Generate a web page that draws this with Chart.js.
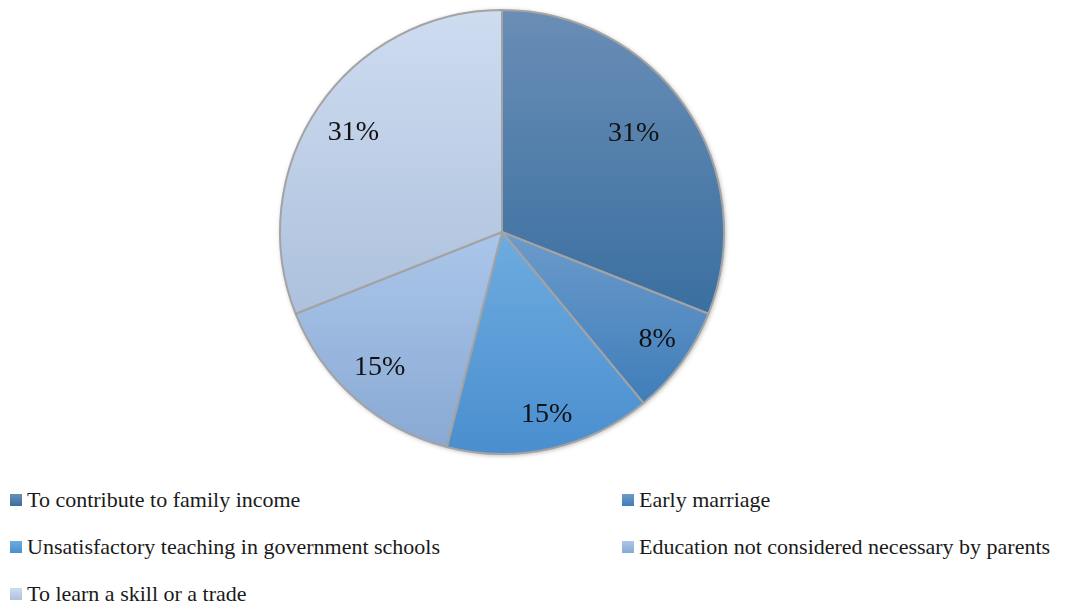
<!DOCTYPE html>
<html lang="en">
<head>
  <meta charset="UTF-8" />
  <title>Reasons for leaving school</title>
  <script src="https://cdn.jsdelivr.net/npm/chart.js"></script>
  <style>
    body { margin: 0; background: #fff; width: 1069px; height: 606px; position: relative; overflow: hidden; font-family: "Liberation Serif", "Times New Roman", serif; }
    .pie-box { position: absolute; left: 270px; top: 0; width: 464px; height: 464px; }
    .legend { position: absolute; left: 10px; top: 488px; width: 1060px; display: grid; grid-template-columns: 612px 440px; row-gap: 24px; }
    .legend-item { display: flex; align-items: center; font-size: 22px; color: #1a1a1a; height: 23px; white-space: nowrap; }
    .swatch { width: 12px; height: 12px; margin-right: 5px; flex: none; }
  </style>
</head>
<body>
  <div class="pie-box"><canvas id="pie"></canvas></div>
  <div class="legend" id="legend"></div>

  <script>
    // categories and their shares (percent)
    const reasons = [
      'To contribute to family income',
      'Early marriage',
      'Unsatisfactory teaching in government schools',
      'Education not considered necessary by parents',
      'To learn a skill or a trade'
    ];
    const shares = [31, 8, 15, 15, 31];

    // vertical gradient per slice: top colour, bottom colour
    const topColors = ['#6a8eb6', '#6c9bcb', '#6eacdf', '#abc6ea', '#cedcf0'];
    const bottomColors = ['#3a6fa0', '#3f7dba', '#4a8ecf', '#89a9d3', '#adc1dd'];

    const total = shares.reduce((a, b) => a + b, 0);

    // work out the slice's vertical extent from the chart area and the data
    function sliceGradient(ctx) {
      const chart = ctx.chart;
      const area = chart.chartArea;
      const i = ctx.dataIndex;
      if (!area) return topColors[i];
      const cx = (area.left + area.right) / 2;
      const cy = (area.top + area.bottom) / 2;
      const r = Math.min(area.right - area.left, area.bottom - area.top) / 2;
      let before = 0;
      for (let k = 0; k < i; k++) before += shares[k];
      const a0 = -Math.PI / 2 + 2 * Math.PI * before / total;
      const a1 = a0 + 2 * Math.PI * shares[i] / total;
      let ymin = cy, ymax = cy;
      for (let s = 0; s <= 60; s++) {
        const y = cy + r * Math.sin(a0 + (a1 - a0) * s / 60);
        ymin = Math.min(ymin, y);
        ymax = Math.max(ymax, y);
      }
      const g = chart.ctx.createLinearGradient(0, ymin, 0, ymax);
      g.addColorStop(0, topColors[i]);
      g.addColorStop(1, bottomColors[i]);
      return g;
    }

    // soft grey shadow under the whole pie
    const pieShadow = {
      id: 'pieShadow',
      beforeDatasetsDraw(chart) {
        const arc = chart.getDatasetMeta(0).data[0];
        if (!arc) return;
        const c = chart.ctx;
        c.save();
        c.shadowColor = 'rgba(0,0,0,0.35)';
        c.shadowBlur = 5;
        c.shadowOffsetX = 1;
        c.shadowOffsetY = 1;
        c.fillStyle = '#ffffff';
        c.beginPath();
        c.arc(arc.x, arc.y, arc.outerRadius, 0, Math.PI * 2);
        c.fill();
        c.restore();
      }
    };

    // percentage labels inside each slice, nudged a little per slice
    const sliceLabels = {
      id: 'sliceLabels',
      afterDatasetsDraw(chart, args, opts) {
        const c = chart.ctx;
        const arcs = chart.getDatasetMeta(0).data;
        const nudge = opts.nudge || [];
        c.save();
        c.font = '28px "Liberation Serif", "Times New Roman", serif';
        c.fillStyle = '#111';
        c.textAlign = 'center';
        c.textBaseline = 'middle';
        arcs.forEach((arc, i) => {
          const mid = (arc.startAngle + arc.endAngle) / 2;
          const d = arc.outerRadius * (i === 0 ? 0.75 : 0.82);
          const [nx, ny] = nudge[i] || [0, 0];
          c.fillText(shares[i] + '%', arc.x + Math.cos(mid) * d + nx, arc.y + Math.sin(mid) * d + ny);
        });
        c.restore();
      }
    };

    new Chart(document.getElementById('pie'), {
      type: 'pie',
      data: {
        labels: reasons,
        datasets: [{
          data: shares,
          backgroundColor: sliceGradient,
          borderColor: '#a3a3a3',
          borderWidth: 2
        }]
      },
      options: {
        responsive: true,
        maintainAspectRatio: false,
        animation: false,
        layout: { padding: 9 },
        plugins: {
          legend: { display: false },
          tooltip: { enabled: false },
          sliceLabels: { nudge: [[-6, -5], [8, 1], [5, 5], [-2, -1], [2, 3]] }
        }
      },
      plugins: [pieShadow, sliceLabels]
    });

    // two-column legend below the pie
    const legend = document.getElementById('legend');
    reasons.forEach((name, i) => {
      const item = document.createElement('div');
      item.className = 'legend-item';
      const sw = document.createElement('span');
      sw.className = 'swatch';
      sw.style.background = 'linear-gradient(' + topColors[i] + ',' + bottomColors[i] + ')';
      item.appendChild(sw);
      item.appendChild(document.createTextNode(name));
      legend.appendChild(item);
    });
  </script>
</body>
</html>
